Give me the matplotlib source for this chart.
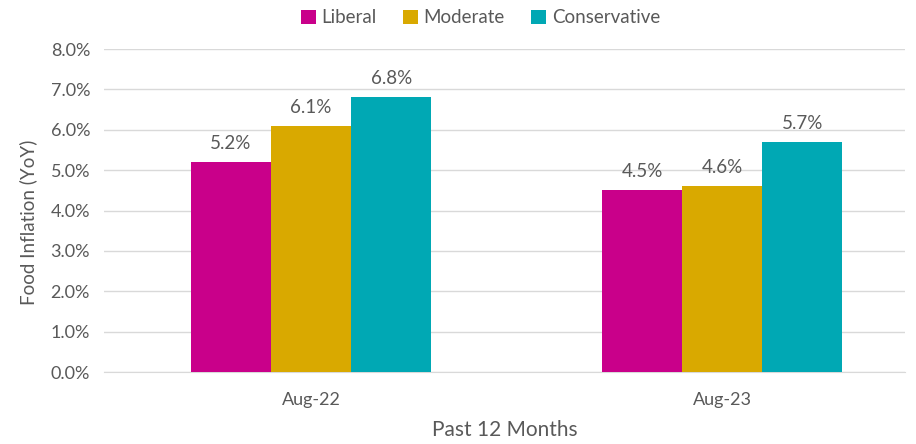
import numpy as np
import matplotlib
matplotlib.use("Agg")
import matplotlib.pyplot as plt
from matplotlib.ticker import PercentFormatter

plt.rcParams['font.family'] = ['Lato', 'DejaVu Sans']

months = ['Aug-22', 'Aug-23']
series = ['Liberal', 'Moderate', 'Conservative']
liberal = [5.2, 4.5]
moderate = [6.1, 4.6]
conservative = [6.8, 5.7]
colors = ['#C9008A', '#D9A900', '#00A8B4']
yticks = np.arange(0, 9, 1)

text_col = '#595959'

fig = plt.figure(figsize=(9.16, 4.44), dpi=100)
ax = fig.add_axes([0.1135, 0.162, 0.8745, 0.7276])

x = np.arange(len(months))
w = 0.195
for i, (name, vals) in enumerate(zip(series, [liberal, moderate, conservative])):
    pos = x + (i - 1) * w
    ax.bar(pos, vals, width=w, color=colors[i], label=name, zorder=3)
    for px, v in zip(pos, vals):
        ax.text(px, v + 0.25, f'{v:.1f}%', ha='center', va='bottom',
                fontsize=13.5, color=text_col)

ax.set_xlim(-0.504, 1.445)
ax.set_ylim(0, 8)
ax.set_yticks(yticks)
ax.yaxis.set_major_formatter(PercentFormatter(decimals=1))
ax.set_xticks(x)
ax.set_xticklabels(months)
ax.grid(axis='y', color='#D9D9D9', linewidth=1, zorder=0)
for s in ['top', 'right', 'left']:
    ax.spines[s].set_visible(False)
ax.spines['bottom'].set_color('#D9D9D9')
ax.tick_params(axis='both', length=0, labelsize=13, colors=text_col, pad=10)
ax.tick_params(axis='x', pad=14)

ax.set_ylabel('Food Inflation (YoY)', fontsize=13.5, color=text_col)
ax.yaxis.set_label_coords(-0.084, 0.465)
ax.set_xlabel('Past 12 Months', fontsize=15, color=text_col, labelpad=9)

leg = ax.legend(loc='upper center', bbox_to_anchor=(0.47, 1.175), ncol=3,
                frameon=False, fontsize=13.5, handlelength=0.8, handleheight=0.8,
                handletextpad=0.3, columnspacing=1.4)
for t in leg.get_texts():
    t.set_color(text_col)

fig.savefig('out.png', dpi=100)
